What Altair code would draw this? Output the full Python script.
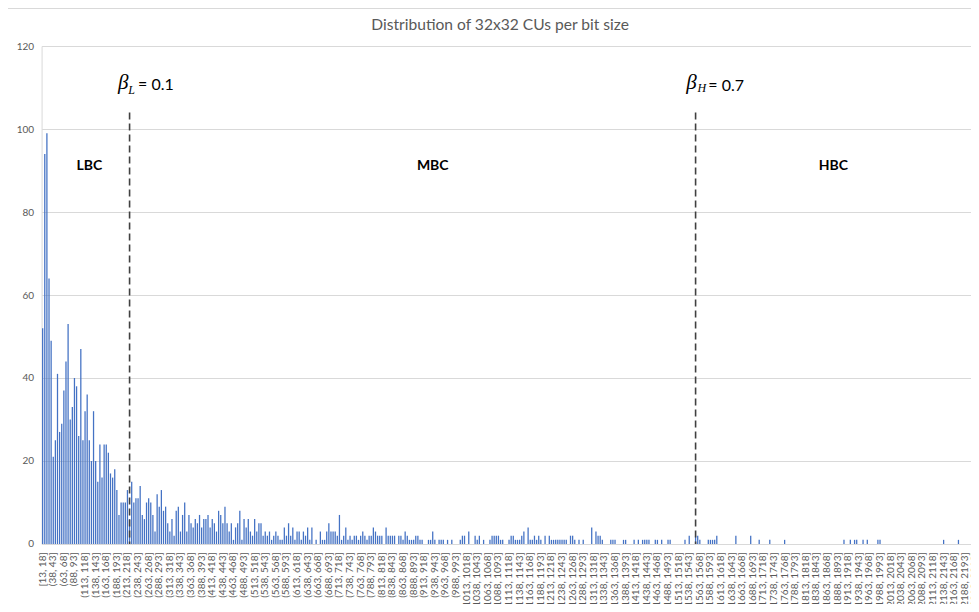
import altair as alt
import pandas as pd

# ---------------- data ----------------
bin_start = 13
bin_width = 5

counts = [
    52, 94, 99, 64, 49, 21, 25, 41, 27, 29,
    37, 44, 53, 30, 33, 40, 38, 26, 47, 25,
    32, 36, 25, 20, 32, 20, 15, 24, 16, 24,
    24, 22, 17, 16, 18, 13, 7, 10, 10, 10,
    13, 6, 15, 10, 11, 11, 14, 7, 6, 10,
    11, 10, 7, 3, 12, 9, 13, 8, 9, 5,
    3, 6, 2, 8, 9, 3, 7, 10, 3, 7,
    5, 4, 6, 5, 7, 4, 6, 6, 7, 4,
    6, 5, 3, 8, 7, 5, 9, 5, 3, 5,
    1, 4, 5, 8, 1, 6, 4, 6, 3, 2,
    6, 3, 5, 5, 2, 3, 2, 3, 1, 2,
    3, 2, 1, 1, 4, 2, 5, 2, 4, 1,
    3, 3, 1, 3, 2, 4, 1, 4, 0, 1,
    0, 3, 1, 1, 3, 5, 3, 3, 3, 2,
    7, 1, 2, 4, 1, 2, 1, 2, 2, 1,
    2, 3, 2, 1, 2, 2, 4, 3, 2, 2,
    2, 0, 4, 2, 2, 2, 2, 0, 2, 2,
    1, 3, 2, 1, 1, 1, 2, 2, 1, 1,
    0, 0, 1, 1, 3, 1, 0, 1, 1, 1,
    0, 1, 0, 1, 0, 0, 0, 1, 2, 2,
    0, 3, 0, 0, 2, 1, 2, 0, 1, 0,
    0, 1, 2, 2, 2, 2, 1, 1, 0, 0,
    1, 2, 2, 1, 1, 1, 2, 3, 0, 4,
    1, 1, 2, 1, 2, 1, 0, 2, 0, 2,
    1, 1, 1, 1, 1, 1, 1, 1, 0, 2,
    2, 1, 0, 1, 0, 1, 0, 0, 0, 4,
    0, 3, 2, 2, 1, 0, 0, 0, 1, 1,
    1, 0, 0, 0, 1, 1, 0, 0, 0, 1,
    0, 1, 0, 1, 1, 1, 1, 0, 0, 1,
    1, 0, 1, 0, 0, 1, 1, 0, 0, 0,
    0, 0, 0, 1, 0, 2, 0, 0, 2, 2,
    1, 0, 0, 0, 1, 1, 1, 1, 2, 0,
    0, 0, 0, 0, 0, 0, 0, 2, 0, 0,
    0, 0, 0, 0, 2, 0, 0, 0, 1, 0,
    0, 0, 0, 1, 0, 0, 0, 0, 0, 0,
    1, 0, 0, 0, 0, 0, 0, 0, 0, 0,
    0, 0, 0, 0, 0, 0, 0, 0, 0, 0,
    0, 0, 0, 0, 0, 0, 0, 0, 1, 0,
    0, 1, 0, 1, 1, 0, 0, 1, 0, 1,
    0, 0, 0, 0, 1, 1, 0, 0, 0, 0,
    0, 0, 0, 0, 0, 0, 0, 0, 0, 0,
    0, 0, 0, 0, 0, 0, 0, 0, 0, 0,
    0, 0, 0, 0, 0, 1, 0, 0, 0, 0,
    0, 0, 1, 0, 0, 0, 0, 0, 0, 0,
    0, 1,
]

n_bins = len(counts)
bin_labels = [f"[{bin_start}, {bin_start + bin_width}]"] + [
    f"({bin_start + bin_width * i}, {bin_start + bin_width * (i + 1)}]"
    for i in range(1, n_bins)
]
shown_labels = bin_labels[::5]
y_ticks = [0, 20, 40, 60, 80, 100, 120]

# threshold lines (beta_L = 0.1, beta_H = 0.7)
threshold_bins = [41, 308]
threshold_top = [104, 104]

# annotation texts
beta_bins = [38, 306]
beta_text = ["β", "β"]
sub_bins = [42, 311]
sub_text = ["L", "H"]
eq_bins = [45, 314]
eq_text = ["= 0.1", "= 0.7"]
class_bins = [22, 184, 373]
class_text = ["LBC", "MBC", "HBC"]

# ---------------- tables ----------------
df = pd.DataFrame({"bin": bin_labels, "count": counts})
rule_df = pd.DataFrame({"bin": [bin_labels[i] for i in threshold_bins],
                        "count": threshold_top, "bottom": [0, 0]})
beta_df = pd.DataFrame({"bin": [bin_labels[i] for i in beta_bins], "count": [111, 111], "text": beta_text})
sub_df = pd.DataFrame({"bin": [bin_labels[i] for i in sub_bins], "count": [109.4, 109.8], "text": sub_text})
eq_df = pd.DataFrame({"bin": [bin_labels[i] for i in eq_bins], "count": [110.6, 110.4], "text": eq_text})
class_df = pd.DataFrame({"bin": [bin_labels[i] for i in class_bins], "count": [91.2] * 3, "text": class_text})

W = 937
H = 498
FONT = "Lato"
GRAY = "#595959"
LIGHT = "#D9D9D9"

x_scale = alt.Scale(domain=bin_labels, paddingInner=0.4, paddingOuter=0.2)
y_scale = alt.Scale(domain=[0, 120])

x_axis = alt.Axis(values=shown_labels, labelAngle=-90, title=None, ticks=False,
                  domainColor=LIGHT, labelColor=GRAY, labelFont=FONT,
                  labelFontSize=10, labelPadding=8, labelOverlap=False,
                  labelBound=False, labelFlush=False, grid=False)
y_axis = alt.Axis(values=y_ticks, title=None, ticks=False, domainColor=LIGHT,
                  grid=True, gridColor=LIGHT, labelColor=GRAY, labelFont=FONT,
                  labelFontSize=10, labelPadding=8)


def xe():
    return alt.X("bin:N", scale=x_scale, sort=None, axis=x_axis)


def ye():
    return alt.Y("count:Q", scale=y_scale, axis=y_axis)


bars = alt.Chart(df).mark_bar(color="#4472C4").encode(x=xe(), y=ye())

rules = alt.Chart(rule_df).mark_rule(color="#404040", strokeDash=[7, 4], strokeWidth=1.6).encode(
    x=xe(), y=ye(), y2="bottom:Q")

beta = alt.Chart(beta_df).mark_text(font="Liberation Serif", fontStyle="italic", fontSize=21,
                                    color="#000000", align="center", baseline="middle").encode(
    x=xe(), y=ye(), text="text:N")

sub = alt.Chart(sub_df).mark_text(font="Liberation Serif", fontStyle="italic", fontSize=12,
                                  color="#000000", align="center", baseline="middle").encode(
    x=xe(), y=ye(), text="text:N")

eq = alt.Chart(eq_df).mark_text(font=FONT, fontSize=16, color="#000000",
                                align="left", baseline="middle").encode(
    x=xe(), y=ye(), text="text:N")

classes = alt.Chart(class_df).mark_text(font=FONT, fontSize=14, fontWeight="bold", color="#000000",
                                        align="center", baseline="middle").encode(
    x=xe(), y=ye(), text="text:N")

frame = alt.Chart(df.head(1)).mark_rule(color=LIGHT, strokeWidth=1).encode(
    x=alt.value(-34), x2=alt.value(W), y=alt.value(-37.5))

chart = alt.layer(bars, rules, beta, sub, eq, classes, frame).properties(
    width=W,
    height=H,
    autosize=alt.AutoSizeParams(type="none"),
    padding={"left": 33.6, "top": 38, "right": -8, "bottom": 60},
    title=alt.TitleParams("Distribution of 32x32 CUs per bit size", font=FONT, fontSize=15.6,
                          fontWeight="normal", color=GRAY, anchor="middle", dx=-10,
                          dy=38, offset=12, frame="group"),
).configure_view(strokeWidth=0)

chart.save("out.html", embed_options={"renderer": "svg", "actions": False})
